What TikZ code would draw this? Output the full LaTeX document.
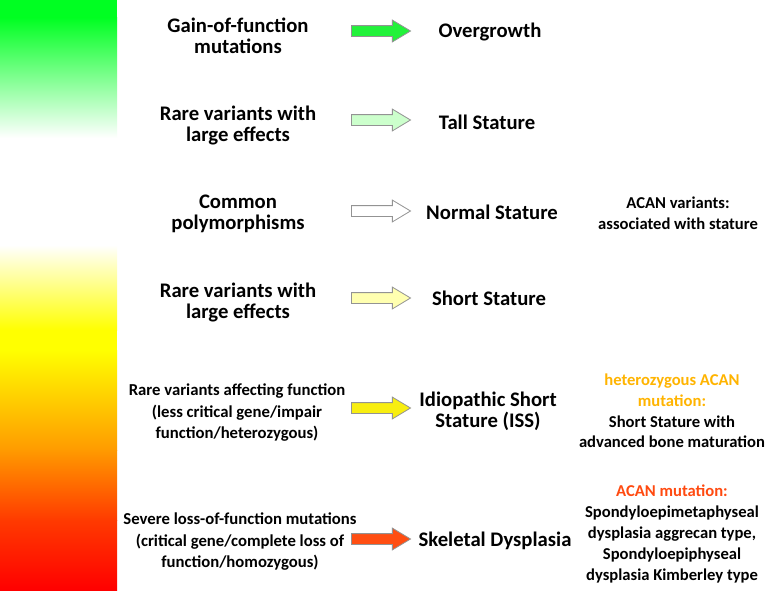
\documentclass[tikz,border=0pt]{standalone}
\usepackage{fontspec}
\setmainfont{Carlito}
\usetikzlibrary{shapes.arrows}
\definecolor{barGreen}{HTML}{00FF22}
\definecolor{barYellow}{HTML}{FFFF00}
\definecolor{barOrange}{HTML}{FF9A00}
\definecolor{barRedOr}{HTML}{FF3A00}
\definecolor{barRed}{HTML}{FF0000}
\definecolor{arrGreen}{HTML}{22F23A}
\definecolor{arrLGreen}{HTML}{CCFFCC}
\definecolor{arrLYellow}{HTML}{FFFFB0}
\definecolor{arrYellow}{HTML}{F8EE10}
\definecolor{arrRed}{HTML}{FF4E12}
\definecolor{txtGold}{HTML}{FFB400}
\definecolor{txtRed}{HTML}{FF4A10}
\tikzset{
  blockarrow/.style={single arrow, draw=gray!85, line width=0.8pt, minimum height=59pt, minimum width=21pt, single arrow head extend=5.5pt, single arrow tip angle=62, inner xsep=0pt, inner ysep=5pt},
  bigtxt/.style={font=\bfseries\fontsize{20.7}{21}\selectfont, align=center, inner sep=0pt},
  smalltxt/.style={font=\bfseries\fontsize{16.7}{21.5}\selectfont, align=center, inner sep=0pt},
  sidetxt/.style={font=\bfseries\fontsize{16.6}{20.8}\selectfont, align=center, inner sep=0pt}
}
\begin{document}
\begin{tikzpicture}[x=1pt,y=-1pt]
\useasboundingbox (0,0) rectangle (767,590);
\fill[white] (0,0) rectangle (767,590);
% gradient bar
\fill[barGreen] (0,0) rectangle (117,18);
\shade[top color=barGreen, bottom color=white] (0,17.5) rectangle (117,138);
\shade[top color=white, bottom color=barYellow] (0,245) rectangle (117,330.5);
\fill[barYellow] (0,330) rectangle (117,350.5);
\shade[top color=barYellow, bottom color=barOrange] (0,350) rectangle (117,450.5);
\shade[top color=barOrange, bottom color=barRedOr] (0,450) rectangle (117,520.5);
\shade[top color=barRedOr, bottom color=barRed] (0,520) rectangle (117,590);
% row 1
\node[bigtxt] (l1) at (238,36) {Gain-of-function\\mutations};
\node[blockarrow, fill=arrGreen] (a1) at (376.5,31) {};
\node[bigtxt] (r1) at (490,31.5) {Overgrowth};
% row 2
\node[bigtxt] (l2) at (238,125.5) {Rare variants with\\large effects};
\node[blockarrow, fill=arrLGreen] (a2) at (376.5,120) {};
\node[bigtxt] (r2) at (487,122) {Tall Stature};
% row 3
\node[bigtxt] (l3) at (238,213.5) {Common\\polymorphisms};
\node[blockarrow, fill=white] (a3) at (376.5,211) {};
\node[bigtxt] (r3) at (492,212) {Normal Stature};
\node[sidetxt] (s3) at (678,213) {ACAN variants:\\associated with stature};
% row 4
\node[bigtxt] (l4) at (238,302.5) {Rare variants with\\large effects};
\node[blockarrow, fill=arrLYellow] (a4) at (376.5,298) {};
\node[bigtxt] (r4) at (489,298) {Short Stature};
% row 5
\node[smalltxt] (l5) at (237,413) {Rare variants affecting function\\(less critical gene/impair\\function/heterozygous)};
\node[blockarrow, fill=arrYellow] (a5) at (376.5,408) {};
\node[bigtxt] (r5) at (488,411) {Idiopathic Short\\Stature (ISS)};
\node[sidetxt] (s5) at (672,411) {\textcolor{txtGold}{heterozygous ACAN}\\\textcolor{txtGold}{mutation:}\\Short Stature with\\advanced bone maturation};
% row 6
\node[smalltxt] (l6) at (240,542) {Severe loss-of-function mutations\\(critical gene/complete loss of\\function/homozygous)};
\node[blockarrow, fill=arrRed] (a6) at (376.5,539) {};
\node[bigtxt] (r6) at (495,541) {Skeletal Dysplasia};
\node[sidetxt] (s6) at (672,534) {\textcolor{txtRed}{ACAN mutation:}\\Spondyloepimetaphyseal\\dysplasia aggrecan type,\\Spondyloepiphyseal\\dysplasia Kimberley type};
\end{tikzpicture}
\end{document}
